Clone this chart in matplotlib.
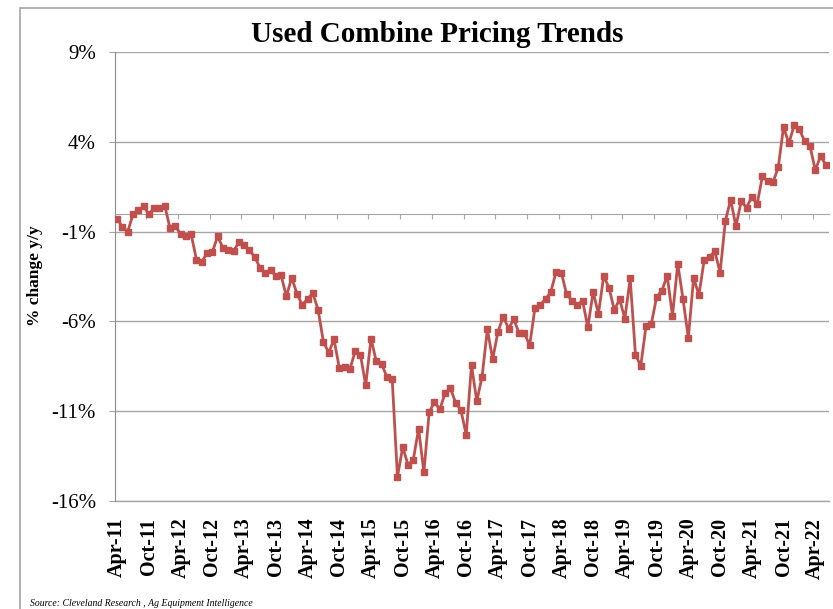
import matplotlib
matplotlib.use("Agg")
import matplotlib.pyplot as plt
import matplotlib.patches as mpatches
import numpy as np
import pandas as pd

# monthly % change y/y, Apr-11 .. Jun-22
yoy_change = [
    -0.28, -0.75, -1.00, -0.04, 0.18, 0.41, -0.04, 0.33, 0.33, 0.45,
    -0.82, -0.71, -1.12, -1.27, -1.16, -2.57, -2.68, -2.20, -2.14, -1.27,
    -1.90, -2.01, -2.09, -1.60, -1.73, -2.05, -2.40, -3.01, -3.33, -3.16,
    -3.46, -3.44, -4.61, -3.57, -4.46, -5.08, -4.74, -4.43, -5.36, -7.14,
    -7.74, -7.00, -8.58, -8.52, -8.67, -7.67, -7.85, -9.56, -6.96, -8.23,
    -8.37, -9.08, -9.19, -14.66, -12.99, -13.99, -13.69, -11.98, -14.40, -11.05,
    -10.49, -10.90, -10.01, -9.71, -10.53, -10.94, -12.32, -8.43, -10.44, -9.08,
    -6.44, -8.11, -6.58, -5.73, -6.40, -5.88, -6.66, -6.66, -7.33, -5.25,
    -5.06, -4.77, -4.35, -3.24, -3.31, -4.50, -4.84, -5.10, -4.84, -6.33,
    -4.35, -5.58, -3.46, -4.13, -5.36, -4.77, -5.84, -3.61, -7.85, -8.48,
    -6.25, -6.14, -4.65, -4.28, -3.46, -5.69, -2.79, -4.77, -6.92, -3.57,
    -4.54, -2.57, -2.42, -2.09, -3.28, -0.41, 0.78, -0.71, 0.70, 0.33,
    0.93, 0.52, 2.08, 1.79, 1.75, 2.57, 4.83, 3.91, 4.91, 4.69,
    4.02, 3.76, 2.42, 3.20, 2.71,
]
months = pd.date_range("2011-04-01", periods=len(yoy_change), freq="MS")
month_labels = [m.strftime("%b-%y") for m in months]
y_ticks = [9, 4, -1, -6, -11, -16]

serif = ["Liberation Serif", "DejaVu Serif"]
grid_col = "#A6A6A6"
line_col = "#C0504D"

fig = plt.figure(figsize=(8.33, 6.09), dpi=100)
ax = fig.add_axes([114.5 / 833, 1 - 501 / 609, (828.5 - 114.5) / 833, (501 - 52) / 609])

x = np.arange(len(yoy_change))
ax.plot(x, yoy_change, color=line_col, lw=2.0, marker="s", ms=5,
        markeredgecolor=line_col, markerfacecolor=line_col, zorder=3)

ax.set_xlim(-0.5, len(yoy_change) - 0.5)
ax.set_ylim(min(y_ticks), max(y_ticks))

# y axis
ax.set_yticks(y_ticks)
ax.set_yticklabels([f"{v}%" for v in y_ticks], fontfamily=serif, fontsize=15)
ax.tick_params(axis="y", length=6 * 0.72, color=grid_col, pad=9)
ax.yaxis.grid(True, color=grid_col, lw=1)
# bottom gridline sits on the axes edge, draw it unclipped
ax.axhline(min(y_ticks), color=grid_col, lw=1, clip_on=False, zorder=1)
ax.spines["left"].set_color("#8C8C8C")
for s in ["top", "right"]:
    ax.spines[s].set_visible(False)

# category axis crosses at 0 with tick marks between categories
ax.spines["bottom"].set_position(("data", 0))
ax.spines["bottom"].set_color(grid_col)
ax.set_xticks(np.arange(-0.5, len(yoy_change), 6))
ax.set_xticklabels([])
ax.tick_params(axis="x", length=5 * 0.72, color=grid_col, direction="out")

# labels along the bottom
secx = ax.secondary_xaxis("bottom")
secx.set_xticks(x[::6])
secx.set_xticklabels(month_labels[::6], rotation=90, fontfamily=serif,
                     fontsize=14.5, fontweight="bold")
secx.tick_params(length=0, pad=12)
secx.spines["bottom"].set_visible(False)

fig.text(437 / 833, 1 - 35 / 609, "Used Combine Pricing Trends", ha="center", va="center",
         fontfamily=serif, fontsize=21, fontweight="bold")
fig.text(35 / 833, 1 - 276 / 609, "% change y/y", rotation=90, ha="center", va="center",
         fontfamily=serif, fontsize=12.5, fontweight="bold")
fig.text(30 / 833, 1 - 603 / 609, "Source: Cleveland Research , Ag Equipment Intelligence",
         ha="left", va="center", fontfamily=serif, fontsize=7, style="italic")

# chart-area frame
frame = mpatches.Rectangle((20 / 833, -0.1), 1.2, 1 - 7.5 / 609 + 0.1, transform=fig.transFigure,
                           fill=False, edgecolor=grid_col, lw=1.2, clip_on=False)
fig.patches.append(frame)

fig.savefig("out.png", dpi=100)
